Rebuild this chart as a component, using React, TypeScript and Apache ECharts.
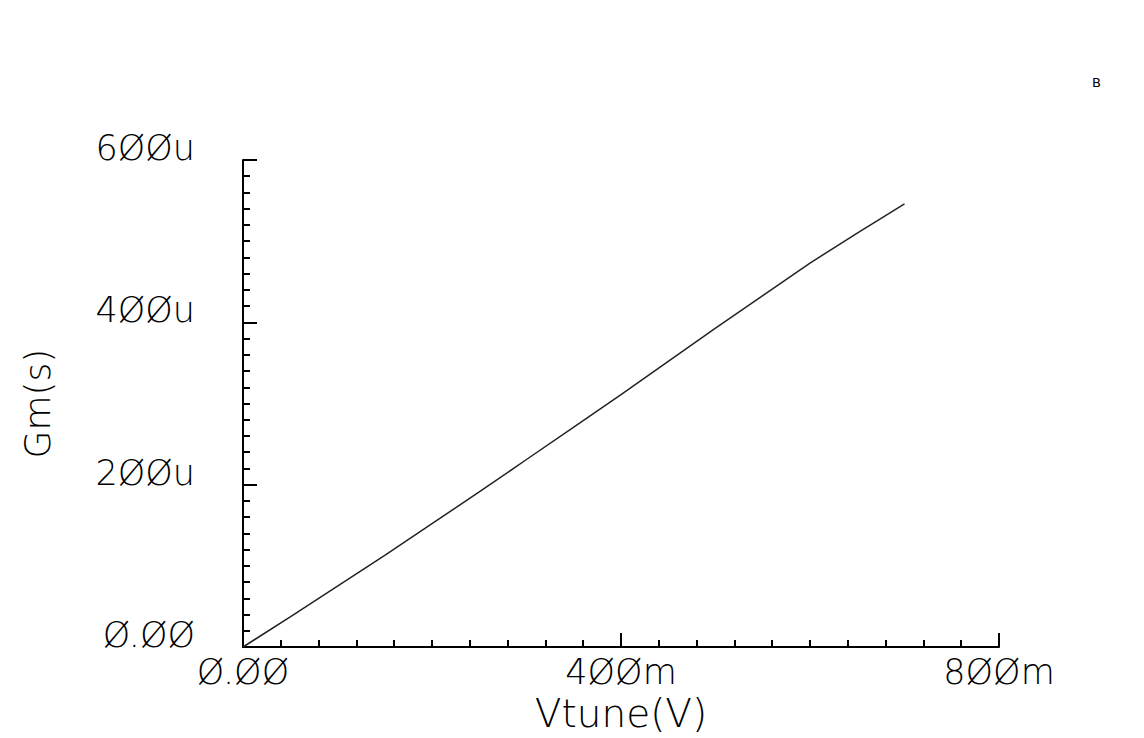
import React, { useEffect, useRef } from "react";
import * as echarts from "echarts";

// Vtune in volts, Gm in microsiemens
const vtune = [0, 0.05, 0.1, 0.15, 0.2, 0.25, 0.3, 0.35, 0.4, 0.45, 0.5, 0.55, 0.6, 0.65, 0.7];
const gmMicro = [0, 37, 75, 113, 152, 191, 231, 271, 311, 352, 393, 433, 473, 510, 546];

const xTickLabels = ["Ø.ØØ", "4ØØm", "8ØØm"];
const yTickLabels = ["Ø.ØØ", "2ØØu", "4ØØu", "6ØØu"];

const FONT = "DejaVu Sans";

export default function App() {
  const ref = useRef<HTMLDivElement>(null);
  useEffect(() => {
    document.body.style.margin = "0";
    const chart = echarts.init(ref.current!, null, { renderer: "svg" });
    const axisLineStyle = { color: "#000", width: 2 };
    chart.setOption({
      animation: false,
      backgroundColor: "#fff",
      grid: { left: 243, right: 145, top: 160, bottom: 91 },
      xAxis: {
        type: "value",
        min: 0,
        max: 0.8,
        interval: 0.4,
        name: "Vtune(V)",
        nameLocation: "middle",
        nameGap: 46,
        nameTextStyle: { fontFamily: FONT, fontSize: 39, fontWeight: 200, color: "#000" },
        axisLine: { show: true, onZero: false, lineStyle: axisLineStyle },
        axisTick: { show: true, inside: true, length: 14, lineStyle: { color: "#000", width: 2 } },
        minorTick: { show: true, splitNumber: 10, length: 7, lineStyle: { color: "#000", width: 2 } },
        splitLine: { show: false },
        axisLabel: {
          margin: 7,
          fontFamily: FONT,
          fontSize: 35,
          fontWeight: 200,
          color: "#000",
          formatter: (_v: number, i: number) => xTickLabels[i] ?? "",
        },
      },
      yAxis: {
        type: "value",
        min: 0,
        max: 600,
        interval: 200,
        name: "Gm(s)",
        nameLocation: "middle",
        nameGap: 188,
        nameTextStyle: { fontFamily: FONT, fontSize: 36, fontWeight: 200, color: "#000" },
        axisLine: { show: true, onZero: false, lineStyle: axisLineStyle },
        axisTick: { show: true, inside: true, length: 14, lineStyle: { color: "#000", width: 2 } },
        minorTick: { show: true, splitNumber: 10, length: 7, lineStyle: { color: "#000", width: 2 } },
        splitLine: { show: false },
        axisLabel: {
          margin: 48,
          verticalAlign: "bottom",
          lineHeight: 24,
          fontFamily: FONT,
          fontSize: 35,
          fontWeight: 200,
          color: "#000",
          formatter: (_v: number, i: number) => yTickLabels[i] ?? "",
        },
      },
      graphic: [
        {
          type: "text",
          left: 1092,
          top: 76,
          style: { text: "B", fontFamily: FONT, fontSize: 13, fill: "#000" },
        },
      ],
      series: [
        {
          type: "line",
          data: vtune.map((v, i) => [v, gmMicro[i]]),
          showSymbol: false,
          symbol: "none",
          lineStyle: { color: "#222", width: 1.5 },
        },
      ],
    });
    return () => chart.dispose();
  }, []);
  return (
    <div
      ref={ref}
      style={{ width: 1144, height: 738, position: "absolute", left: 0, top: 0 }}
    />
  );
}
